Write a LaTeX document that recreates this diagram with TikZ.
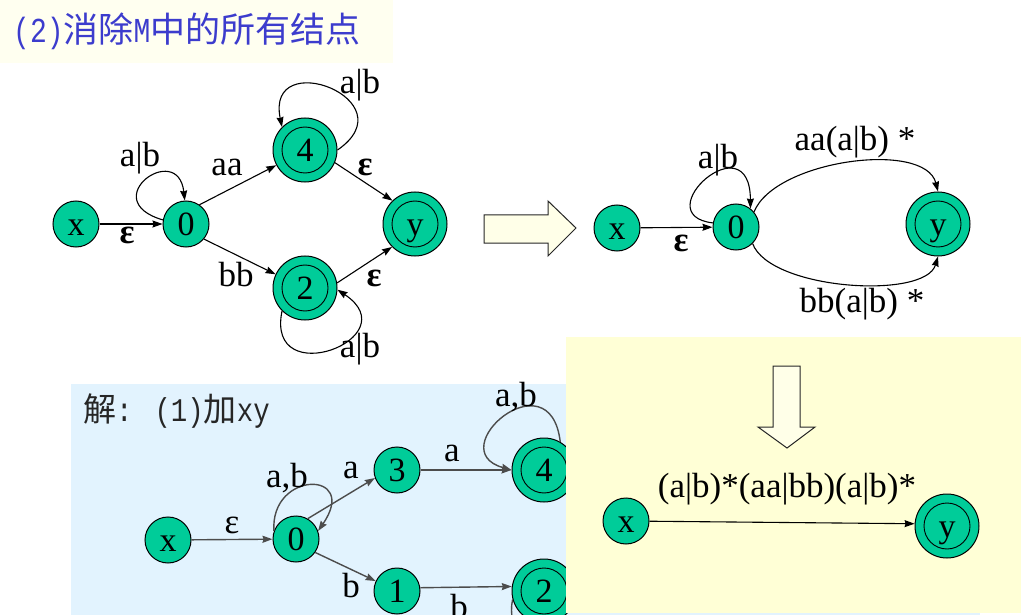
\documentclass[tikz,border=0pt]{standalone}
\usepackage{fontspec}
\setmainfont{Liberation Serif}
\newfontfamily\cjk{Noto Sans CJK SC}
\newfontfamily\hw{Liberation Mono}
\usetikzlibrary{arrows.meta}
\definecolor{nodegreen}{RGB}{0,204,153}
\definecolor{titlebg}{RGB}{255,255,240}
\definecolor{bluebg}{RGB}{226,243,254}
\definecolor{yellowbg}{RGB}{255,255,214}
\definecolor{arrowfill}{RGB}{255,255,232}
\definecolor{titleblue}{RGB}{60,60,205}
\newcommand{\halfA}[1]{\scalebox{0.8}[1]{\hw\fontsize{35}{35}\selectfont #1}}
\newcommand{\halfB}[1]{\scalebox{0.83}[1]{\hw\fontsize{33}{33}\selectfont #1}}
\begin{document}
\begin{tikzpicture}[x=1pt,y=-1pt,
  st/.style={circle,draw=black,line width=1pt,fill=nodegreen,minimum size=46pt,inner sep=0pt,
    text height=23pt,text depth=0pt,font=\fontsize{34}{34}\selectfont},
  fin/.style={st,minimum size=64pt,
    path picture={\draw[line width=0.9pt] (path picture bounding box.center) circle[radius=23pt];}},
  edge/.style={-{Stealth[length=10pt,width=7pt,inset=1pt]},line width=1.1pt},
  edgeg/.style={edge,draw=black!70,line width=1.4pt},
  lbl/.style={font=\fontsize{35}{35}\selectfont,inner sep=0pt},
  eps/.style={font=\bfseries\fontsize{35}{35}\selectfont,inner sep=0pt},
  blockarrow/.style={fill=arrowfill,draw=black!85,line width=1pt,line join=miter}]
\useasboundingbox (0,0) rectangle (1021,615);
\clip (0,0) rectangle (1021,615);
\fill[white] (0,0) rectangle (1021,615);

% title
\fill[titlebg] (0,0) rectangle (393,63);
\node[anchor=west,inner sep=0pt,text=titleblue] (title) at (13,31)
  {\cjk\fontsize{35}{35}\selectfont\halfA{(2)}消除\halfA{M}中的所有结点};

% ---- top-left automaton
\node[st] (x1) at (76,224) {x};
\node[st] (z1) at (186,224) {0};
\node[fin] (f4) at (305,150) {4};
\node[fin] (f2) at (305,288) {2};
\node[fin] (y1) at (415,224) {y};
\draw[edge] (x1) -- (z1);
\node[eps] (e1) at (127,235) {ε};
\draw[edge] (z1.170) .. controls (95,200) and (178,140) .. (z1.93);
\node[lbl] (l1) at (140,158) {a|b};
\draw[edge] (z1.55) -- (f4.208);
\node[lbl] (l2) at (227,167) {aa};
\draw[edge] (z1.-40) -- (f2.155);
\node[lbl] (l3) at (236,275) {bb};
\draw[edge] (f4.-23) -- (y1.134);
\node[eps] (e2) at (365,167) {ε};
\draw[edge] (f2.9) -- (y1.225);
\node[eps] (e3) at (374,278) {ε};
\draw[edge] (f4.east) .. controls (410,100) and (265,45) .. (f4.135);
\node[lbl] (l4) at (360,85) {a|b};
\draw[edge] (f2.225) .. controls (265,393) and (410,338) .. (f2.-3);
\node[lbl] (l5) at (360,349) {a|b};

% block arrow right
\draw[blockarrow] (484,215) -- (548,215) -- (548,201) -- (576,228) -- (548,256) -- (548,243) -- (484,243) -- cycle;

% ---- top-right automaton
\node[st] (x2) at (617,228) {x};
\node[st] (z2) at (736,227) {0};
\node[fin] (y2) at (938,224) {y};
\draw[edge] (x2) -- (z2);
\node[eps] (e4) at (681,243) {ε};
\draw[edge] (z2.170) .. controls (645,215) and (750,120) .. (z2.52);
\node[lbl] (l6) at (718,160) {a|b};
\draw[edge] (z2.40) .. controls (775,160) and (925,140) .. (y2.north);
\node[lbl] (l7) at (855,142) {aa(a|b) *};
\draw[edge] (z2.-45) .. controls (770,290) and (925,300) .. (y2.south);
\node[lbl] (l8) at (862,304) {bb(a|b) *};

% ---- bottom-left panel
\fill[bluebg] (71,384) rectangle (980,615);
\node[anchor=west,inner sep=0pt,text=black!85] (t2) at (83,411)
  {\cjk\fontsize{33}{33}\selectfont 解\halfB{: (1)}加\halfB{xy}};
\node[st] (x3) at (168,540) {x};
\node[st] (z3) at (296,539) {0};
\node[st] (n3) at (397,470) {3};
\node[fin] (f34) at (544,470) {4};
\node[st] (n1) at (397,591) {1};
\node[fin] (f32) at (544,591) {2};
\draw[edgeg] (x3) -- (z3);
\node[lbl] (e5) at (232,525) {ε};
\draw[edgeg] (z3.160) .. controls (270,470) and (360,470) .. (z3.20);
\node[lbl] (l9) at (287,478) {a,b};
\draw[edgeg] (z3.60) -- (n3.200);
\node[lbl] (l10) at (351,470) {a};
\draw[edgeg] (z3.-35) -- (n1.155);
\node[lbl] (l11) at (351,586) {b};
\draw[edgeg] (n3) -- (f34);
\node[lbl] (l12) at (452,453) {a};
\draw[edgeg] (f34.60) .. controls (550,355) and (440,450) .. (f34.west);
\node[lbl] (l13) at (516,397) {a,b};
\draw[edgeg] (n1.8) -- (f32.172);
\node[lbl] (l14) at (459,607) {b};
\draw[edgeg] (f32.195) .. controls (500,660) and (600,680) .. (f32.-60);

% ---- bottom-right panel
\fill[yellowbg] (566,337) rectangle (1021,613);
\draw[blockarrow] (773,366) -- (800,366) -- (800,427) -- (815,427) -- (787,448) -- (758,427) -- (773,427) -- cycle;
\node[st] (x4) at (626,521) {x};
\node[fin] (y4) at (947,526) {y};
\draw[edge] (x4) -- (y4.176);
\node[lbl] (l15) at (787,489) {(a|b)*(aa|bb)(a|b)*};
\end{tikzpicture}
\end{document}
